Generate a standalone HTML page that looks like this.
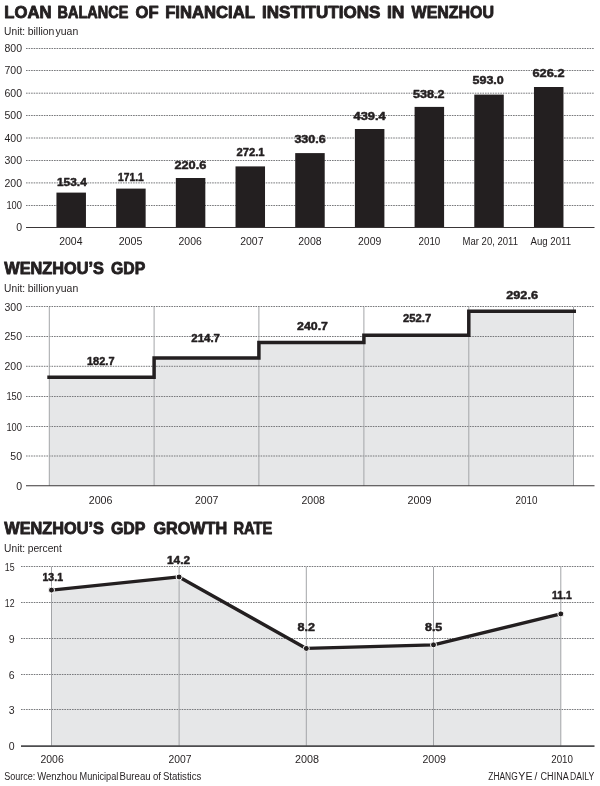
<!DOCTYPE html>
<html lang="en"><head><meta charset="utf-8"><title>Wenzhou loan balance and GDP</title>
<style>
html,body{margin:0;padding:0;background:#fff;}
svg{display:block;font-family:"Liberation Sans",sans-serif;filter:blur(0.3px);}
.g{stroke:#77787b;stroke-width:1;stroke-dasharray:1.6 0.95;fill:none;}
.v{stroke:#a3a5a8;stroke-width:1;fill:none;}
.ax{stroke:#3a3637;stroke-width:1.1;fill:none;}
</style></head><body>
<svg width="600" height="786" viewBox="0 0 600 786">
<rect x="0" y="0" width="600" height="786" fill="#ffffff"/>
<text y="18" font-size="17" font-weight="bold" fill="#231f20" stroke="#231f20" stroke-width="0.9" stroke-linejoin="round"><tspan x="4.3" textLength="47.2" lengthAdjust="spacingAndGlyphs">LOAN</tspan> <tspan x="57.6" textLength="70.7" lengthAdjust="spacingAndGlyphs">BALANCE</tspan> <tspan x="135.6" textLength="23.0" lengthAdjust="spacingAndGlyphs">OF</tspan> <tspan x="165.2" textLength="89.4" lengthAdjust="spacingAndGlyphs">FINANCIAL</tspan> <tspan x="262.0" textLength="118.3" lengthAdjust="spacingAndGlyphs">INSTITUTIONS</tspan> <tspan x="387.0" textLength="17.5" lengthAdjust="spacingAndGlyphs">IN</tspan> <tspan x="411.6" textLength="82.4" lengthAdjust="spacingAndGlyphs">WENZHOU</tspan></text>
<text y="34.9" font-size="10" fill="#231f20"><tspan x="4.1" textLength="21.0" lengthAdjust="spacingAndGlyphs">Unit:</tspan> <tspan x="27.7" textLength="26.7" lengthAdjust="spacingAndGlyphs">billion</tspan> <tspan x="55.5" textLength="22.7" lengthAdjust="spacingAndGlyphs">yuan</tspan></text>
<line x1="26" y1="205.5" x2="594.5" y2="205.5" class="g"/>
<line x1="26" y1="182.9" x2="594.5" y2="182.9" class="g"/>
<line x1="26" y1="160.5" x2="594.5" y2="160.5" class="g"/>
<line x1="26" y1="138.0" x2="594.5" y2="138.0" class="g"/>
<line x1="26" y1="115.5" x2="594.5" y2="115.5" class="g"/>
<line x1="26" y1="93.2" x2="594.5" y2="93.2" class="g"/>
<line x1="26" y1="70.5" x2="594.5" y2="70.5" class="g"/>
<line x1="26" y1="48.5" x2="594.5" y2="48.5" class="g"/>
<text x="16.15" y="231.1" font-size="10" text-anchor="start" textLength="5.85" lengthAdjust="spacingAndGlyphs" fill="#231f20">0</text>
<text x="6.4" y="209.0" font-size="10" text-anchor="start" textLength="15.6" lengthAdjust="spacingAndGlyphs" fill="#231f20">100</text>
<text x="4.45" y="186.5" font-size="10" text-anchor="start" textLength="17.55" lengthAdjust="spacingAndGlyphs" fill="#231f20">200</text>
<text x="4.45" y="164.1" font-size="10" text-anchor="start" textLength="17.55" lengthAdjust="spacingAndGlyphs" fill="#231f20">300</text>
<text x="4.45" y="141.6" font-size="10" text-anchor="start" textLength="17.55" lengthAdjust="spacingAndGlyphs" fill="#231f20">400</text>
<text x="4.45" y="119.1" font-size="10" text-anchor="start" textLength="17.55" lengthAdjust="spacingAndGlyphs" fill="#231f20">500</text>
<text x="4.45" y="96.8" font-size="10" text-anchor="start" textLength="17.55" lengthAdjust="spacingAndGlyphs" fill="#231f20">600</text>
<text x="4.45" y="74.2" font-size="10" text-anchor="start" textLength="17.55" lengthAdjust="spacingAndGlyphs" fill="#231f20">700</text>
<text x="4.45" y="52.1" font-size="10" text-anchor="start" textLength="17.55" lengthAdjust="spacingAndGlyphs" fill="#231f20">800</text>
<rect x="56.45" y="192.6" width="29.5" height="35.4" fill="#231f20"/>
<rect x="116.14" y="188.6" width="29.5" height="39.4" fill="#231f20"/>
<rect x="175.83" y="178.0" width="29.5" height="50.0" fill="#231f20"/>
<rect x="235.52" y="166.4" width="29.5" height="61.6" fill="#231f20"/>
<rect x="295.21" y="153.1" width="29.5" height="74.9" fill="#231f20"/>
<rect x="354.9" y="129.0" width="29.5" height="99.0" fill="#231f20"/>
<rect x="414.59" y="106.9" width="29.5" height="121.1" fill="#231f20"/>
<rect x="474.28" y="94.6" width="29.5" height="133.4" fill="#231f20"/>
<rect x="533.97" y="87.0" width="29.5" height="141.0" fill="#231f20"/>
<text x="57" y="185.5" font-size="11.4" font-weight="bold" text-anchor="start" textLength="29.75" lengthAdjust="spacingAndGlyphs" fill="#231f20" stroke="#231f20" stroke-width="0.5" stroke-linejoin="round">153.4</text>
<text x="118" y="181" font-size="11.4" font-weight="bold" text-anchor="start" textLength="25.75" lengthAdjust="spacingAndGlyphs" fill="#231f20" stroke="#231f20" stroke-width="0.5" stroke-linejoin="round">171.1</text>
<text x="174.4" y="169" font-size="11.4" font-weight="bold" text-anchor="start" textLength="32.0" lengthAdjust="spacingAndGlyphs" fill="#231f20" stroke="#231f20" stroke-width="0.5" stroke-linejoin="round">220.6</text>
<text x="236.4" y="156" font-size="11.4" font-weight="bold" text-anchor="start" textLength="28.2" lengthAdjust="spacingAndGlyphs" fill="#231f20" stroke="#231f20" stroke-width="0.5" stroke-linejoin="round">272.1</text>
<text x="294.4" y="143.4" font-size="11.4" font-weight="bold" text-anchor="start" textLength="31.2" lengthAdjust="spacingAndGlyphs" fill="#231f20" stroke="#231f20" stroke-width="0.5" stroke-linejoin="round">330.6</text>
<text x="353.5" y="120" font-size="11.4" font-weight="bold" text-anchor="start" textLength="32.1" lengthAdjust="spacingAndGlyphs" fill="#231f20" stroke="#231f20" stroke-width="0.5" stroke-linejoin="round">439.4</text>
<text x="413" y="98.4" font-size="11.4" font-weight="bold" text-anchor="start" textLength="31.5" lengthAdjust="spacingAndGlyphs" fill="#231f20" stroke="#231f20" stroke-width="0.5" stroke-linejoin="round">538.2</text>
<text x="472.5" y="83.75" font-size="11.4" font-weight="bold" text-anchor="start" textLength="31.25" lengthAdjust="spacingAndGlyphs" fill="#231f20" stroke="#231f20" stroke-width="0.5" stroke-linejoin="round">593.0</text>
<text x="532.5" y="77" font-size="11.4" font-weight="bold" text-anchor="start" textLength="32.0" lengthAdjust="spacingAndGlyphs" fill="#231f20" stroke="#231f20" stroke-width="0.5" stroke-linejoin="round">626.2</text>
<text x="59.25" y="245" font-size="10" text-anchor="start" textLength="23.25" lengthAdjust="spacingAndGlyphs" fill="#231f20">2004</text>
<text x="118.7" y="245" font-size="10" text-anchor="start" textLength="23.7" lengthAdjust="spacingAndGlyphs" fill="#231f20">2005</text>
<text x="178.5" y="245" font-size="10" text-anchor="start" textLength="23.3" lengthAdjust="spacingAndGlyphs" fill="#231f20">2006</text>
<text x="240.2" y="245" font-size="10" text-anchor="start" textLength="23.3" lengthAdjust="spacingAndGlyphs" fill="#231f20">2007</text>
<text x="298.3" y="245" font-size="10" text-anchor="start" textLength="23.2" lengthAdjust="spacingAndGlyphs" fill="#231f20">2008</text>
<text x="358" y="245" font-size="10" text-anchor="start" textLength="23.3" lengthAdjust="spacingAndGlyphs" fill="#231f20">2009</text>
<text x="418.5" y="245" font-size="10" text-anchor="start" textLength="21.8" lengthAdjust="spacingAndGlyphs" fill="#231f20">2010</text>
<text x="462.5" y="245" font-size="10" text-anchor="start" textLength="55.5" lengthAdjust="spacingAndGlyphs" fill="#231f20">Mar 20, 2011</text>
<text x="530.5" y="245" font-size="10" text-anchor="start" textLength="40.5" lengthAdjust="spacingAndGlyphs" fill="#231f20">Aug 2011</text>
<line x1="26" y1="227.5" x2="594.5" y2="227.5" class="ax"/>
<text y="274.3" font-size="17" font-weight="bold" fill="#231f20" stroke="#231f20" stroke-width="0.9" stroke-linejoin="round"><tspan x="4.3" textLength="99.7" lengthAdjust="spacingAndGlyphs">WENZHOU’S</tspan> <tspan x="110.9" textLength="34.3" lengthAdjust="spacingAndGlyphs">GDP</tspan></text>
<text y="291.6" font-size="10" fill="#231f20"><tspan x="4.1" textLength="21.0" lengthAdjust="spacingAndGlyphs">Unit:</tspan> <tspan x="27.7" textLength="26.7" lengthAdjust="spacingAndGlyphs">billion</tspan> <tspan x="55.5" textLength="22.7" lengthAdjust="spacingAndGlyphs">yuan</tspan></text>
<path d="M49.3 377.25 L154.1 377.25 L154.1 358.03 L258.9 358.03 L258.9 342.42 L363.9 342.42 L363.9 335.21 L468.8 335.21 L468.8 311.25 L573.5 311.25 L573.5 485.8 L49.3 485.8 Z" fill="#e6e7e8"/>
<line x1="26" y1="456.0" x2="594.5" y2="456.0" class="g"/>
<line x1="26" y1="426.5" x2="594.5" y2="426.5" class="g"/>
<line x1="26" y1="396.5" x2="594.5" y2="396.5" class="g"/>
<line x1="26" y1="366.3" x2="594.5" y2="366.3" class="g"/>
<line x1="26" y1="336.5" x2="594.5" y2="336.5" class="g"/>
<line x1="26" y1="306.5" x2="594.5" y2="306.5" class="g"/>
<line x1="49.3" y1="307" x2="49.3" y2="485.8" class="v"/>
<line x1="154.1" y1="307" x2="154.1" y2="485.8" class="v"/>
<line x1="258.9" y1="307" x2="258.9" y2="485.8" class="v"/>
<line x1="363.9" y1="307" x2="363.9" y2="485.8" class="v"/>
<line x1="468.8" y1="307" x2="468.8" y2="485.8" class="v"/>
<line x1="573.5" y1="307" x2="573.5" y2="485.8" class="v"/>
<text x="16.15" y="489.8" font-size="10" text-anchor="start" textLength="5.85" lengthAdjust="spacingAndGlyphs" fill="#231f20">0</text>
<text x="10.3" y="460.0" font-size="10" text-anchor="start" textLength="11.7" lengthAdjust="spacingAndGlyphs" fill="#231f20">50</text>
<text x="6.4" y="430.5" font-size="10" text-anchor="start" textLength="15.6" lengthAdjust="spacingAndGlyphs" fill="#231f20">100</text>
<text x="6.4" y="400.4" font-size="10" text-anchor="start" textLength="15.6" lengthAdjust="spacingAndGlyphs" fill="#231f20">150</text>
<text x="4.45" y="370.3" font-size="10" text-anchor="start" textLength="17.55" lengthAdjust="spacingAndGlyphs" fill="#231f20">200</text>
<text x="4.45" y="340.4" font-size="10" text-anchor="start" textLength="17.55" lengthAdjust="spacingAndGlyphs" fill="#231f20">250</text>
<text x="4.45" y="310.6" font-size="10" text-anchor="start" textLength="17.55" lengthAdjust="spacingAndGlyphs" fill="#231f20">300</text>
<path d="M47.3 377.25 L154.1 377.25 L154.1 358.03 L258.9 358.03 L258.9 342.42 L363.9 342.42 L363.9 335.21 L468.8 335.21 L468.8 311.25 L576.0 311.25" fill="none" stroke="#231f20" stroke-width="3.5" stroke-linejoin="miter"/>
<line x1="26" y1="485.8" x2="594.5" y2="485.8" class="ax"/>
<text x="87" y="364.5" font-size="11.4" font-weight="bold" text-anchor="start" textLength="27.5" lengthAdjust="spacingAndGlyphs" fill="#231f20" stroke="#231f20" stroke-width="0.5" stroke-linejoin="round">182.7</text>
<text x="191.25" y="341.75" font-size="11.4" font-weight="bold" text-anchor="start" textLength="28.75" lengthAdjust="spacingAndGlyphs" fill="#231f20" stroke="#231f20" stroke-width="0.5" stroke-linejoin="round">214.7</text>
<text x="297" y="329.5" font-size="11.4" font-weight="bold" text-anchor="start" textLength="31" lengthAdjust="spacingAndGlyphs" fill="#231f20" stroke="#231f20" stroke-width="0.5" stroke-linejoin="round">240.7</text>
<text x="403" y="321.75" font-size="11.4" font-weight="bold" text-anchor="start" textLength="28.25" lengthAdjust="spacingAndGlyphs" fill="#231f20" stroke="#231f20" stroke-width="0.5" stroke-linejoin="round">252.7</text>
<text x="506.25" y="299.25" font-size="11.4" font-weight="bold" text-anchor="start" textLength="31.75" lengthAdjust="spacingAndGlyphs" fill="#231f20" stroke="#231f20" stroke-width="0.5" stroke-linejoin="round">292.6</text>
<text x="88.75" y="503.8" font-size="10" text-anchor="start" textLength="23.75" lengthAdjust="spacingAndGlyphs" fill="#231f20">2006</text>
<text x="195" y="503.8" font-size="10" text-anchor="start" textLength="23.5" lengthAdjust="spacingAndGlyphs" fill="#231f20">2007</text>
<text x="301.5" y="503.8" font-size="10" text-anchor="start" textLength="23.5" lengthAdjust="spacingAndGlyphs" fill="#231f20">2008</text>
<text x="407.5" y="503.8" font-size="10" text-anchor="start" textLength="24.0" lengthAdjust="spacingAndGlyphs" fill="#231f20">2009</text>
<text x="515.5" y="503.8" font-size="10" text-anchor="start" textLength="22.0" lengthAdjust="spacingAndGlyphs" fill="#231f20">2010</text>
<text y="534.3" font-size="17" font-weight="bold" fill="#231f20" stroke="#231f20" stroke-width="0.9" stroke-linejoin="round"><tspan x="4.3" textLength="99.7" lengthAdjust="spacingAndGlyphs">WENZHOU’S</tspan> <tspan x="110.9" textLength="34.3" lengthAdjust="spacingAndGlyphs">GDP</tspan> <tspan x="153.4" textLength="73.8" lengthAdjust="spacingAndGlyphs">GROWTH</tspan> <tspan x="233.4" textLength="38.8" lengthAdjust="spacingAndGlyphs">RATE</tspan></text>
<text y="551.6" font-size="10" fill="#231f20"><tspan x="4.1" textLength="21.0" lengthAdjust="spacingAndGlyphs">Unit:</tspan> <tspan x="27.7" textLength="34.2" lengthAdjust="spacingAndGlyphs">percent</tspan></text>
<path d="M51.5 590.08 L179.1 576.98 L306.3 648.44 L433.5 644.87 L560.8 613.9 L560.8 746.1 L51.5 746.1 Z" fill="#e6e7e8"/>
<line x1="21" y1="709.5" x2="594" y2="709.5" class="g"/>
<line x1="21" y1="674.5" x2="594" y2="674.5" class="g"/>
<line x1="21" y1="638.5" x2="594" y2="638.5" class="g"/>
<line x1="21" y1="602.5" x2="594" y2="602.5" class="g"/>
<line x1="21" y1="566.5" x2="594" y2="566.5" class="g"/>
<line x1="51.5" y1="567" x2="51.5" y2="746.1" class="v"/>
<line x1="179.1" y1="567" x2="179.1" y2="746.1" class="v"/>
<line x1="306.3" y1="567" x2="306.3" y2="746.1" class="v"/>
<line x1="433.5" y1="567" x2="433.5" y2="746.1" class="v"/>
<line x1="560.8" y1="567" x2="560.8" y2="746.1" class="v"/>
<text x="8.75" y="749.7" font-size="10" text-anchor="start" textLength="5.85" lengthAdjust="spacingAndGlyphs" fill="#231f20">0</text>
<text x="8.75" y="713.5" font-size="10" text-anchor="start" textLength="5.85" lengthAdjust="spacingAndGlyphs" fill="#231f20">3</text>
<text x="8.75" y="678.5" font-size="10" text-anchor="start" textLength="5.85" lengthAdjust="spacingAndGlyphs" fill="#231f20">6</text>
<text x="8.75" y="642.5" font-size="10" text-anchor="start" textLength="5.85" lengthAdjust="spacingAndGlyphs" fill="#231f20">9</text>
<text x="4.85" y="606.5" font-size="10" text-anchor="start" textLength="9.75" lengthAdjust="spacingAndGlyphs" fill="#231f20">12</text>
<text x="4.85" y="570.5" font-size="10" text-anchor="start" textLength="9.75" lengthAdjust="spacingAndGlyphs" fill="#231f20">15</text>
<path d="M51.5 590.08 L179.1 576.98 L306.3 648.44 L433.5 644.87 L560.8 613.9" fill="none" stroke="#231f20" stroke-width="3.3" stroke-linejoin="round"/>
<circle cx="51.5" cy="590.08" r="3" fill="#231f20" stroke="#fff" stroke-width="1"/>
<circle cx="179.1" cy="576.98" r="3" fill="#231f20" stroke="#fff" stroke-width="1"/>
<circle cx="306.3" cy="648.44" r="3" fill="#231f20" stroke="#fff" stroke-width="1"/>
<circle cx="433.5" cy="644.87" r="3" fill="#231f20" stroke="#fff" stroke-width="1"/>
<circle cx="560.8" cy="613.9" r="3" fill="#231f20" stroke="#fff" stroke-width="1"/>
<line x1="21" y1="746.1" x2="594.5" y2="746.1" class="ax" style="stroke-width:1.8;stroke:#4d4d4f"/>
<text x="42.5" y="580.8" font-size="11.4" font-weight="bold" text-anchor="start" textLength="20.5" lengthAdjust="spacingAndGlyphs" fill="#231f20" stroke="#231f20" stroke-width="0.5" stroke-linejoin="round">13.1</text>
<text x="167" y="564.3" font-size="11.4" font-weight="bold" text-anchor="start" textLength="23" lengthAdjust="spacingAndGlyphs" fill="#231f20" stroke="#231f20" stroke-width="0.5" stroke-linejoin="round">14.2</text>
<text x="297.5" y="631.3" font-size="11.4" font-weight="bold" text-anchor="start" textLength="17.5" lengthAdjust="spacingAndGlyphs" fill="#231f20" stroke="#231f20" stroke-width="0.5" stroke-linejoin="round">8.2</text>
<text x="425" y="631.3" font-size="11.4" font-weight="bold" text-anchor="start" textLength="17.3" lengthAdjust="spacingAndGlyphs" fill="#231f20" stroke="#231f20" stroke-width="0.5" stroke-linejoin="round">8.5</text>
<text x="552" y="599" font-size="11.4" font-weight="bold" text-anchor="start" textLength="19.7" lengthAdjust="spacingAndGlyphs" fill="#231f20" stroke="#231f20" stroke-width="0.5" stroke-linejoin="round">11.1</text>
<text x="40.5" y="762.5" font-size="10" text-anchor="start" textLength="23.25" lengthAdjust="spacingAndGlyphs" fill="#231f20">2006</text>
<text x="168.5" y="762.5" font-size="10" text-anchor="start" textLength="23.0" lengthAdjust="spacingAndGlyphs" fill="#231f20">2007</text>
<text x="295" y="762.5" font-size="10" text-anchor="start" textLength="24" lengthAdjust="spacingAndGlyphs" fill="#231f20">2008</text>
<text x="422.5" y="762.5" font-size="10" text-anchor="start" textLength="23.5" lengthAdjust="spacingAndGlyphs" fill="#231f20">2009</text>
<text x="551.25" y="762.5" font-size="10" text-anchor="start" textLength="21.75" lengthAdjust="spacingAndGlyphs" fill="#231f20">2010</text>
<text y="780.2" font-size="10" fill="#231f20"><tspan x="4.2" textLength="31.0" lengthAdjust="spacingAndGlyphs">Source:</tspan> <tspan x="37.2" textLength="40.0" lengthAdjust="spacingAndGlyphs">Wenzhou</tspan> <tspan x="79.6" textLength="38.7" lengthAdjust="spacingAndGlyphs">Municipal</tspan> <tspan x="119.6" textLength="31.0" lengthAdjust="spacingAndGlyphs">Bureau</tspan> <tspan x="153.0" textLength="8.0" lengthAdjust="spacingAndGlyphs">of</tspan> <tspan x="162.9" textLength="38.4" lengthAdjust="spacingAndGlyphs">Statistics</tspan></text>
<text y="780.3" font-size="10" fill="#231f20"><tspan x="488.3" textLength="29.4" lengthAdjust="spacingAndGlyphs">ZHANG</tspan> <tspan x="518.3" textLength="14.2" lengthAdjust="spacingAndGlyphs">YE</tspan> <tspan x="537.2" text-anchor="middle">/</tspan> <tspan x="540.6" textLength="27.6" lengthAdjust="spacingAndGlyphs">CHINA</tspan> <tspan x="570.0" textLength="24.2" lengthAdjust="spacingAndGlyphs">DAILY</tspan></text>
</svg></body></html>
